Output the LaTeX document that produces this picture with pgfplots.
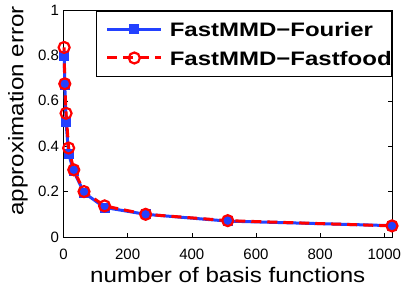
\documentclass[border=0pt]{standalone}
\usepackage{pgfplots}
\pgfplotsset{compat=1.18}
\usepackage{fontspec}
\setmainfont{Liberation Sans}
\newfontfamily\lblfont[FakeStretch=1.15]{Liberation Sans}
\newfontfamily\legfont[FakeStretch=1.23]{Liberation Sans}
\definecolor{mblue}{RGB}{35,65,255}
\begin{document}
\begin{tikzpicture}
\begin{axis}[
  scale only axis,
  width=328.5pt, height=227pt,
  xmin=0, xmax=1024, ymin=0, ymax=1,
  xtick={0,200,400,600,800,1000},
  ytick={0,0.2,0.4,0.6,0.8,1},
  tick align=inside,
  tick pos=both,
  major tick length=4pt,
  tick style={line width=0.6pt, black},
  /pgf/number format/assume math mode=true,
  /pgf/number format/1000 sep={},
  ticklabel style={font=\fontsize{15}{15}\selectfont},
  xticklabel style={anchor=base, yshift=-22pt},
  yticklabel style={anchor=east, xshift=-1pt},
  xlabel={number of basis functions},
  ylabel={approximation error},
  label style={font=\fontsize{21}{21}\lblfont},
  xlabel style={at={(axis description cs:0.5,-0.2026)}, anchor=base},
  ylabel style={at={(axis description cs:-0.1218,0.555)}, anchor=base},
  axis line style={line width=0.7pt},
  clip=false,
  legend image code/.code={
    \path (0pt,0pt) (71pt,0pt);
    \draw[mark repeat=2,mark phase=2,#1] plot coordinates {(10pt,0pt) (37pt,0pt) (64pt,0pt)};
  },
  legend style={at={(1,1)}, anchor=north east, yshift=-1pt,
    font=\fontsize{19.5}{19.5}\legfont\bfseries,
    draw=black, line width=0.6pt, inner xsep=0pt, inner ysep=11pt, row sep=14.5pt,
    nodes={inner sep=0pt, text depth=0pt}},
  legend cell align=left,
]
\addplot[mblue, line width=3pt, mark=square*, mark size=4.5pt,
  mark options={solid, fill=mblue, draw=mblue, line width=0.8pt}]
  coordinates {(2,0.80) (4,0.67) (8,0.505) (16,0.365) (32,0.29) (64,0.195) (128,0.13) (256,0.10) (512,0.07) (1024,0.05)};
\addlegendentry{FastMMD−Fourier\hspace{3pt}}
\addplot[red, line width=3pt, dash pattern=on 10pt off 6pt, mark=o, mark size=5.5pt,
  mark options={solid, line width=2.2pt}]
  coordinates {(2,0.835) (4,0.675) (8,0.545) (16,0.392) (32,0.296) (64,0.20) (128,0.137) (256,0.10) (512,0.072) (1024,0.049)};
\addlegendentry{FastMMD−Fastfood\hspace{3pt}}
\end{axis}
\pgfresetboundingbox
\path[use as bounding box] ([shift={(-63.5pt,-50pt)}]current axis.south west) rectangle ([shift={(14pt,10pt)}]current axis.north east);
\end{tikzpicture}
\end{document}
